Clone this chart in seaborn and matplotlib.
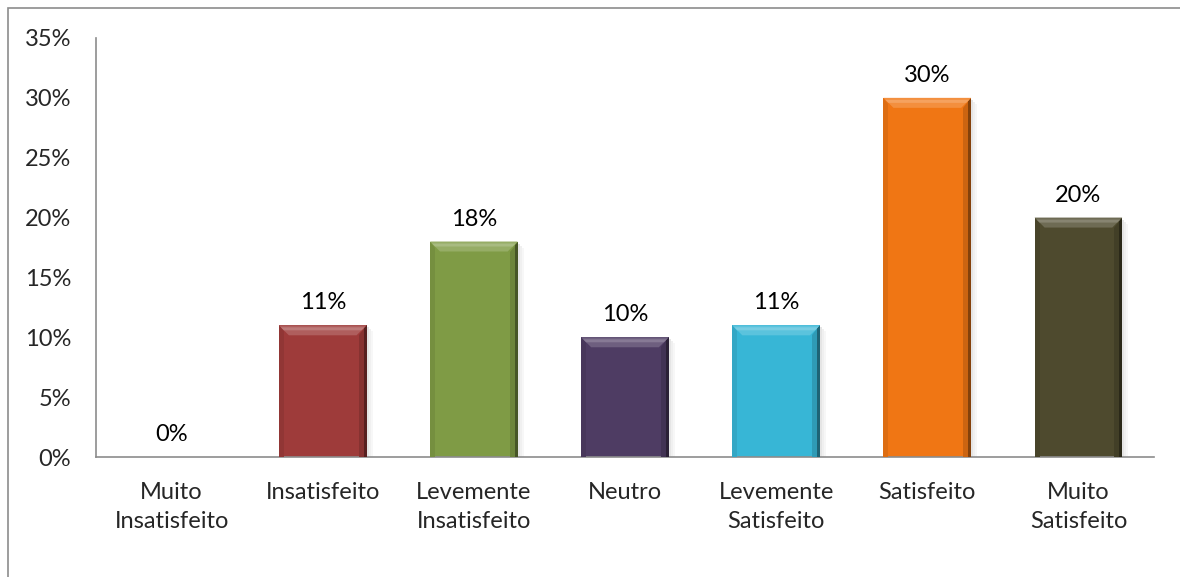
import matplotlib
matplotlib.use("Agg")
import matplotlib.pyplot as plt
import seaborn as sns
import pandas as pd
from matplotlib.patches import Polygon, Rectangle
from matplotlib.colors import to_rgb

categories = ["Muito\nInsatisfeito", "Insatisfeito", "Levemente\nInsatisfeito", "Neutro",
              "Levemente\nSatisfeito", "Satisfeito", "Muito\nSatisfeito"]
values = [0, 11, 18, 10, 11, 30, 20]
colors = ["#4F81BD", "#9E3B3A", "#7F9B45", "#4E3C63", "#37B6D6", "#F07614", "#4E4A2E"]
yticks = [0, 5, 10, 15, 20, 25, 30, 35]

sns.set_theme(style="white")
plt.rcParams["font.family"] = ["Lato", "DejaVu Sans"]

df = pd.DataFrame({"cat": categories, "val": values})

fig = plt.figure(figsize=(11.8, 5.77), dpi=100)
ax = fig.add_axes([96 / 1180, 1 - 457 / 577, (1154 - 96) / 1180, (457 - 38) / 577])

sns.barplot(data=df, x="cat", y="val", hue="cat", palette=colors, legend=False,
            width=0.58, ax=ax, saturation=1, edgecolor="none", zorder=2)

FS = 17
ax.set_ylim(0, 35)
ax.set_xlim(-0.5, len(categories) - 0.5)
ax.set_yticks(yticks)
ax.set_yticklabels([f"{t}%" for t in yticks], fontsize=FS)
ax.tick_params(axis="y", pad=18, length=0)
ax.tick_params(axis="x", length=0, pad=18, labelsize=FS)
for lbl in ax.get_xticklabels():
    lbl.set_linespacing(1.45)
ax.set_xlabel("")
ax.set_ylabel("")
for s in ["top", "right"]:
    ax.spines[s].set_visible(False)
for s in ["left", "bottom"]:
    ax.spines[s].set_color("#8c8c8c")
    ax.spines[s].set_linewidth(1.2)


def shade(c, f):
    r, g, b = to_rgb(c)
    if f > 1:
        return tuple(min(1, x + (1 - x) * (f - 1)) for x in (r, g, b))
    return tuple(x * f for x in (r, g, b))


# bevelled edges and soft shadow on each bar
px_x = 1 / 151.0   # data units per pixel, horizontal
px_y = 5 / 59.9    # data units per pixel, vertical
for patch, col in zip(ax.patches, colors):
    x0, y0 = patch.get_x(), patch.get_y()
    w, h = patch.get_width(), patch.get_height()
    if h <= 0:
        continue
    x1, y1 = x0 + w, y0 + h
    bw, bh = 10 * px_x, 10 * px_y
    # shadow
    for k, a in enumerate([0.10, 0.06, 0.03]):
        ax.add_patch(Rectangle((x1 + k * 2 * px_x, y0), 2 * px_x, h - (k + 1) * 2 * px_y,
                               color="#000000", alpha=a, lw=0, zorder=1))
    # right bevel
    ax.add_patch(Polygon([(x1, y1), (x1, y0), (x1 - bw * 0.8, y0), (x1 - bw * 0.8, y1 - bh)],
                         closed=True, facecolor=shade(col, 0.85), lw=0, zorder=3))
    ax.add_patch(Polygon([(x1, y1), (x1, y0), (x1 - 3 * px_x, y0), (x1 - 3 * px_x, y1 - 3 * px_y)],
                         closed=True, facecolor=shade(col, 0.55), lw=0, zorder=3))
    # left bevel
    ax.add_patch(Polygon([(x0, y1), (x0, y0), (x0 + bw * 0.5, y0), (x0 + bw * 0.5, y1 - bh * 0.6)],
                         closed=True, facecolor=shade(col, 0.92), lw=0, zorder=3))
    # top bevel with highlight
    ax.add_patch(Polygon([(x0, y1), (x1, y1), (x1 - bw, y1 - bh), (x0 + bw, y1 - bh)],
                         closed=True, facecolor=shade(col, 1.18), lw=0, zorder=4))
    ax.add_patch(Polygon([(x0 + 2 * px_x, y1 - 2 * px_y), (x1 - 2 * px_x, y1 - 2 * px_y),
                          (x1 - 5 * px_x, y1 - 5 * px_y), (x0 + 5 * px_x, y1 - 5 * px_y)],
                         closed=True, facecolor=shade(col, 1.32), lw=0, zorder=4))

# value labels
for i, v in enumerate(values):
    ax.text(i, v + 1.0, f"{v}%", ha="center", va="bottom", fontsize=FS, color="#000000")

# outer frame
fig.add_artist(Rectangle((8 / 1180, -0.05), 1.1, 1 - 8 / 577 + 0.05, transform=fig.transFigure,
                         fill=False, edgecolor="#8c8c8c", lw=1.2))

fig.savefig("out.png", dpi=100)
